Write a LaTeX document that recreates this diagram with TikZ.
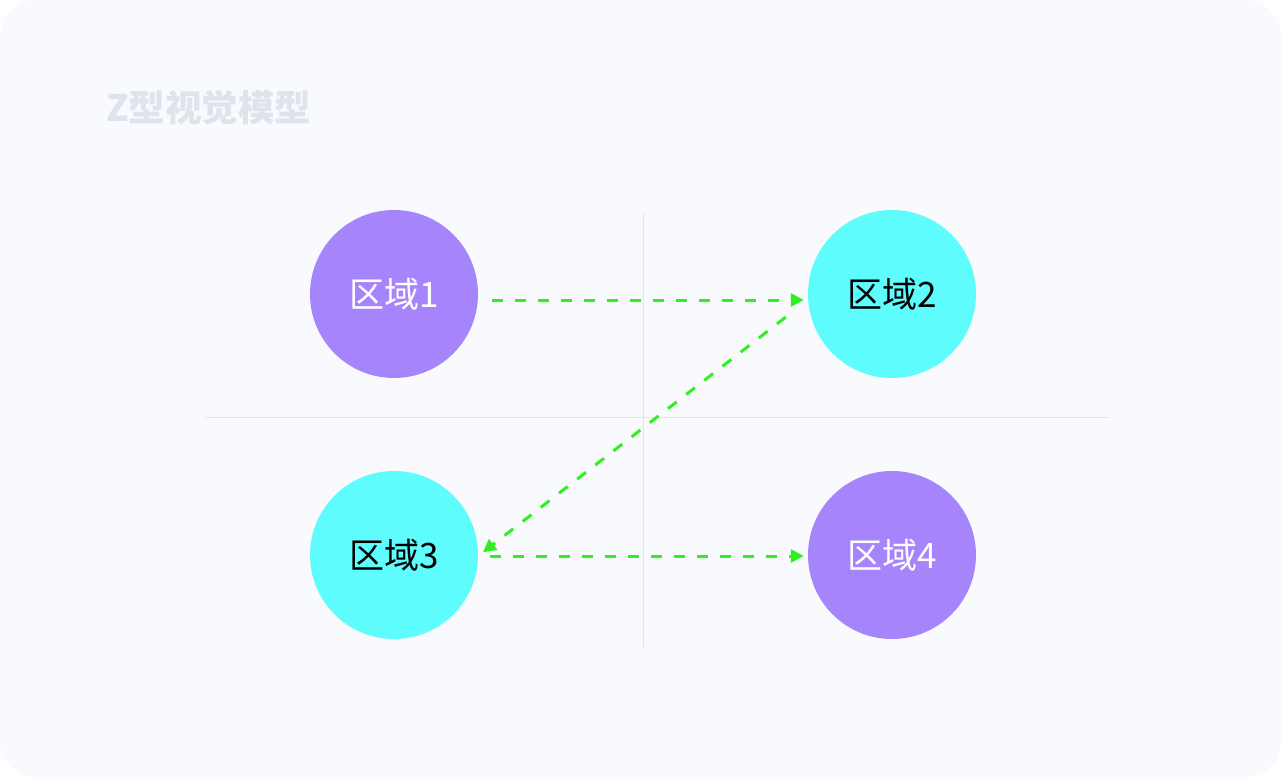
\documentclass[tikz,border=0pt]{standalone}
\usepackage{fontspec}
\setmainfont{Noto Sans CJK SC}
\usetikzlibrary{arrows.meta}
\definecolor{panel}{HTML}{F8FAFE}
\definecolor{gridline}{HTML}{E1E4EC}
\definecolor{titlegrey}{HTML}{E0E3EC}
\definecolor{zonepurple}{HTML}{A685FC}
\definecolor{zonecyan}{HTML}{5EFCFC}
\definecolor{flowgreen}{HTML}{2EF21E}
\tikzset{
  zone/.style={circle,minimum size=168pt,inner sep=0pt,font=\fontsize{35}{35}\selectfont},
  flow/.style={draw=flowgreen,line width=3pt,dash pattern=on 11pt off 12pt,
    -{Triangle[length=13pt,width=13pt]}}
}
\newcommand{\quadrants}{
  % The cross lines
  \draw [gridline,line width=1pt] (643,213) -- (643,647);
  \draw [gridline,line width=1pt] (205,417) -- (1109,417);
}

\begin{document}
\begin{tikzpicture}[x=1pt,y=-1pt]
    \useasboundingbox (0,0) rectangle (1281,777);
    % The panel
    \fill [white] (0,0) rectangle (1281,777);
    \fill [panel,rounded corners=36pt] (0,0) rectangle (1281,777);

    % Title
    \node [anchor=west,inner sep=0pt,text=titlegrey,font=\fontsize{36.5}{36.5}\selectfont\bfseries] (title) at (106,108) {Z型视觉模型};

    \quadrants

    % The four zones
    \node [zone,fill=zonepurple,text=white] (z1) at (394,294) {区域1};
    \node [zone,fill=zonecyan,text=black] (z2) at (892,294) {区域2};
    \node [zone,fill=zonecyan,text=black] (z3) at (394,555) {区域3};
    \node [zone,fill=zonepurple,text=white] (z4) at (892,555) {区域4};

    % The Z path
    \draw [flow,shorten <=14pt,shorten >=4pt] ([yshift=-6pt]z1.east) -- ([yshift=-6pt]z2.west);
    \draw [flow,shorten <=28pt,shorten >=6pt] ([yshift=-6pt]z2.west) -- ([yshift=-1pt]z3.east);
    \draw [flow,shorten <=12pt,shorten >=4pt] ([yshift=-1pt]z3.east) -- ([yshift=-1pt]z4.west);
\end{tikzpicture}
\end{document}
